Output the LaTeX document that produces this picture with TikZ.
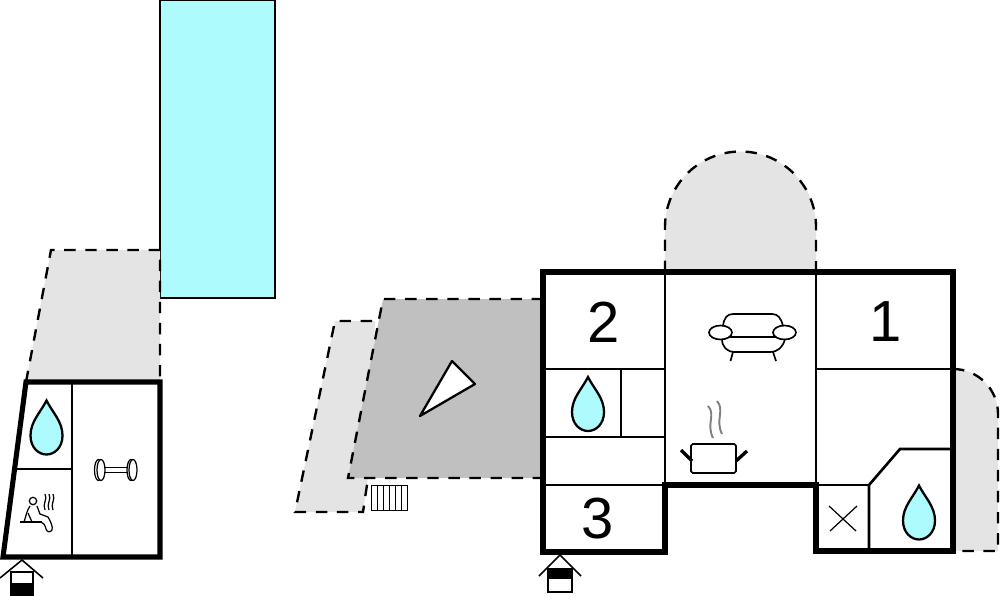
\documentclass[tikz,border=0pt]{standalone}
\usepackage{fontspec}
\setmainfont{Liberation Sans}
\definecolor{poolblue}{HTML}{ADFBFD}
\definecolor{terracelight}{HTML}{E4E4E4}
\definecolor{terracedark}{HTML}{C0C0C0}
\tikzset{
    outerwall/.style={line width=2.9pt, line join=miter},
    innerwall/.style={line width=1.5pt},
    terrace/.style={dash pattern=on 6.5pt off 5.5pt, line width=1.35pt},
    icon/.style={line width=0.95pt},
    fineicon/.style={line width=0.7pt},
    roomnum/.style={font=\fontsize{33}{33}\selectfont, inner sep=0pt},
    waterdrop/.pic={
        \draw[fill=poolblue, line width=1.3pt] (0,-27)
            .. controls (6,-15) and (16,-6) .. (16,8)
            .. controls (16,20) and (8,27) .. (0,27)
            .. controls (-8,27) and (-16,20) .. (-16,8)
            .. controls (-16,-6) and (-6,-15) .. (0,-27) -- cycle;
    },
}
\begin{document}
\begin{tikzpicture}[x=0.02cm, y=-0.02cm]
    \useasboundingbox (0,0) rectangle (1000,595);

    % Pool
    \draw[fill=poolblue, line width=0.9pt] (160,0.5) rectangle (275,298);

    % Terraces
    \fill[terracelight] (51,250) -- (160,250) -- (160,382) -- (26,382) -- cycle;
    \draw[terrace] (26,382) -- (51,250) -- (160,250) -- (160,382);
    \fill[terracelight] (335,321) -- (375,321) -- (368,478) -- (363,512) -- (295,512) -- cycle;
    \draw[terrace] (372,321) -- (335,321) -- (295,512) -- (363,512) -- (368,478);
    \fill[terracedark] (383,299) -- (543,299) -- (543,478) -- (348,478) -- cycle;
    \draw[terrace] (543,299) -- (383,299) -- (348,478) -- (543,478);
    \fill[terracelight] (665,272) -- (665,227) arc[start angle=180, end angle=360, radius=75.5] -- (816,272) -- cycle;
    \draw[terrace] (665,272) -- (665,227) arc[start angle=180, end angle=360, radius=75.5] -- (816,272);
    \fill[terracelight] (953,369) arc[start angle=270, end angle=360, radius=45] -- (998,551) -- (953,551) -- cycle;
    \draw[terrace] (953,369) arc[start angle=270, end angle=360, radius=45] -- (998,551) -- (953,551);

    % Sun wedge
    \draw[fill=white, line width=1.3pt, line join=round] (452,361) -- (475,384) -- (420,416) -- cycle;

    % Radiator
    \draw[line width=0.45pt] (371,485) rectangle (407,510);
    \foreach \X in {377,383,389,395,401} {
        \draw[line width=0.45pt] (\X,485) -- (\X,510);
    }

    % Small house
    \draw[innerwall] (72,382) -- (72,557);
    \draw[innerwall] (17,469) -- (72,469);
    \draw[outerwall] (26,382) -- (160,382) -- (160,557) -- (3,557) -- cycle;

    % Main house
    \foreach \X in {665,816} {
        \draw[innerwall] (\X,272) -- (\X,486);
    }
    \foreach \Y in {369,437,485} {
        \draw[innerwall] (543,\Y) -- (665,\Y);
    }
    \draw[innerwall] (621,369) -- (621,437);
    \draw[innerwall] (816,369) -- (953,369);
    \draw[innerwall, line join=miter] (953,449) -- (900,449) -- (869,485) -- (869,551);
    \draw[innerwall] (816,485) -- (869,485);
    \draw[outerwall] (543,272) -- (953,272) -- (953,551) -- (816,551) -- (816,485)
        -- (665,485) -- (665,552) -- (543,552) -- cycle;

    % Room numbers
    \node[roomnum] (roomtwo) at (604,322) {2};
    \node[roomnum] (roomone) at (886,322) {1};
    \node[roomnum] (roomthree) at (598,519) {3};

    % Bathrooms
    \pic at (46.5,427.5) {waterdrop};
    \pic at (588,404) {waterdrop};
    \pic at (919,512.5) {waterdrop};

    % Toilet cross
    \draw[fineicon] (829,506) -- (856,531);
    \draw[fineicon] (830,531) -- (857,506);

    % Sofa
    \draw[icon] (723,326) .. controls (724,318) and (727,314) .. (733,314) -- (772,314)
        .. controls (778,314) and (781,318) .. (783,326);
    \draw[icon] (730,337) -- (775,337);
    \draw[icon] (722,339) .. controls (722,347) and (727,352) .. (735,352) -- (770,352)
        .. controls (778,352) and (783,347) .. (785,339);
    \draw[icon] (733,352) -- (730.5,361);
    \draw[icon] (773,352) -- (776,361);
    \draw[icon] (720.5,332.5) ellipse[x radius=11.5, y radius=7];
    \draw[icon] (784.5,332.5) ellipse[x radius=11.5, y radius=7];

    % Pot
    \draw[icon, rounded corners=1pt] (691,444) rectangle (736,473);
    \draw[line width=1.9pt] (681,450) -- (692,461);
    \draw[line width=1.9pt] (747,451) -- (736,461);
    \draw[gray, line width=1.1pt] (708,406) .. controls (716,414) and (706,424) .. (713,438);
    \draw[gray, line width=1.1pt] (717,401) .. controls (725,410) and (715,420) .. (722,434);

    % Dumbbell
    \draw[fineicon] (103,467.3) -- (127,467.3);
    \draw[fineicon] (103,472.7) -- (127,472.7);
    \foreach \X in {98.5,101,131,133} {
        \draw[fineicon, fill=white] (\X,470) ellipse[x radius=4, y radius=10.5];
    }

    % Sauna
    \draw[fineicon] (33,501) circle[radius=3.7];
    \draw[fineicon] (20,522) -- (42,522);
    \draw[fineicon, line join=round] (30,506) .. controls (27,510) and (26,516) .. (24,522);
    \draw[fineicon, line join=round] (28,513) -- (32,522);
    \draw[fineicon, line join=round] (37,506) -- (40,514) -- (48,517)
        .. controls (51,522) and (53,527) .. (52,530) .. controls (50,533) and (47,532) .. (46,529)
        .. controls (45,525) and (44,523) .. (41,522);
    \foreach \X in {45,49,53} {
        \draw[fineicon] (\X,494) .. controls (\X+3,499) and (\X-3,504) .. (\X,510);
    }

    % Entrances
    \draw[line width=0.9pt] (0,578) -- (22,560) -- (43,578);
    \draw[line width=0.9pt, fill=white] (11,572) rectangle (33,595);
    \fill (10,583) rectangle (33.5,595);
    \draw[line width=0.9pt] (539,576) -- (560,555) -- (581,576);
    \draw[line width=0.9pt, fill=white] (548,569) rectangle (572,592);
    \fill (548,569) rectangle (572,579);
\end{tikzpicture}
\end{document}
